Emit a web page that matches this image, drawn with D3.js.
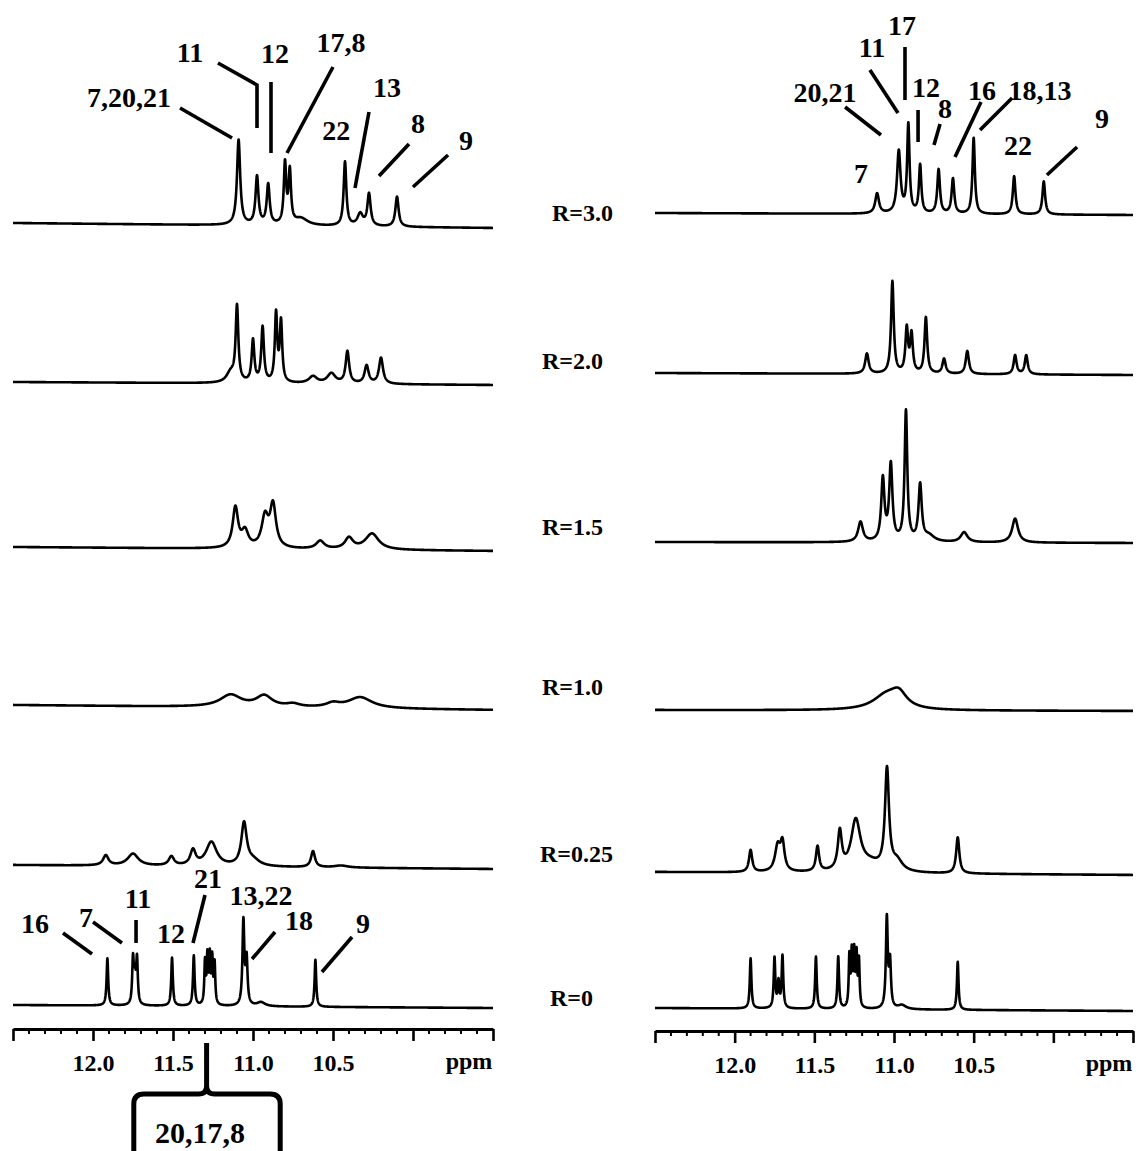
<!DOCTYPE html>
<html>
<head>
<meta charset="utf-8">
<script src="https://cdn.jsdelivr.net/npm/d3@7/dist/d3.min.js"></script>
<style>
body { margin: 0; background: #fff; }
svg { display: block; }
text { font-family: "Liberation Serif", "Times New Roman", serif; font-weight: bold; fill: #000; }
</style>
</head>
<body>
<script>
// row titles, top to bottom
var rowLabels = ["R=3.0", "R=2.0", "R=1.5", "R=1.0", "R=0.25", "R=0"];

// peaks: [ppm, height, half width (ppm)]
var leftR30 = [[11.09, 85, 0.012], [10.975, 48, 0.011], [10.905, 40, 0.011], [10.80, 60, 0.009], [10.77, 52, 0.009],
  [10.70, 7, 0.05], [10.425, 64, 0.01], [10.33, 12, 0.02], [10.275, 32, 0.012], [10.10, 30, 0.012]];
var leftR20 = [[11.14, 10, 0.03], [11.10, 75, 0.01], [11.0, 42, 0.01], [10.94, 55, 0.01], [10.856, 68, 0.009],
  [10.825, 60, 0.009], [10.625, 7, 0.03], [10.51, 10, 0.03], [10.41, 32, 0.013], [10.29, 18, 0.015], [10.2, 26, 0.015]];
var leftR15 = [[11.11, 40, 0.02], [11.05, 16, 0.025], [10.925, 30, 0.025], [10.875, 42, 0.022], [10.58, 8, 0.03],
  [10.40, 11, 0.03], [10.256, 16, 0.05]];
var leftR10 = [[11.14, 12, 0.08], [10.93, 11, 0.06], [10.75, 3, 0.05], [10.5, 4, 0.05], [10.33, 11, 0.09]];
var leftR025 = [[11.92, 10, 0.02], [11.75, 12, 0.04], [11.51, 9, 0.02], [11.375, 15, 0.02], [11.26, 24, 0.04],
  [11.056, 42, 0.02], [11.0, 6, 0.05], [10.625, 16, 0.015], [10.45, 2, 0.05]];
var leftR0 = [[11.91, 47, 0.006], [11.75, 45, 0.006], [11.738, 25, 0.006], [11.725, 45, 0.006], [11.506, 48, 0.006],
  [11.37, 50, 0.006], [11.30, 42, 0.005], [11.285, 46, 0.005], [11.27, 46, 0.005], [11.255, 44, 0.005],
  [11.24, 40, 0.005], [11.06, 84, 0.007], [11.04, 45, 0.007], [10.95, 4, 0.03], [10.61, 47, 0.006]];

var rightR30 = [[11.106, 20, 0.014], [10.97, 62, 0.013], [10.91, 88, 0.009], [10.836, 48, 0.009], [10.72, 44, 0.01],
  [10.63, 35, 0.01], [10.5, 76, 0.009], [10.246, 38, 0.01], [10.06, 33, 0.01]];
var rightR20 = [[11.17, 20, 0.013], [11.01, 92, 0.01], [10.92, 44, 0.01], [10.89, 38, 0.01], [10.8, 56, 0.01],
  [10.686, 15, 0.012], [10.54, 23, 0.012], [10.24, 19, 0.011], [10.17, 19, 0.011]];
var rightR15 = [[11.21, 20, 0.018], [11.07, 62, 0.012], [11.02, 76, 0.012], [10.925, 130, 0.01], [10.836, 56, 0.012],
  [10.78, 6, 0.04], [10.56, 10, 0.025], [10.24, 24, 0.022]];
var rightR10 = [[11.05, 14, 0.1], [10.97, 14, 0.06]];
var rightR025 = [[11.9, 22, 0.012], [11.73, 25, 0.02], [11.70, 27, 0.015], [11.48, 25, 0.012], [11.34, 38, 0.015],
  [11.24, 50, 0.035], [11.15, 8, 0.08], [11.044, 100, 0.015], [10.98, 10, 0.04], [10.6, 36, 0.012]];
var rightR0 = [[11.9, 50, 0.006], [11.75, 50, 0.006], [11.725, 25, 0.006], [11.70, 52, 0.006], [11.49, 52, 0.006],
  [11.35, 52, 0.006], [11.28, 50, 0.005], [11.265, 52, 0.005], [11.25, 52, 0.005], [11.235, 50, 0.005],
  [11.22, 46, 0.005], [11.045, 90, 0.007], [11.025, 45, 0.007], [10.95, 4, 0.03], [10.6, 48, 0.006]];

var leftPeaks = [leftR30, leftR20, leftR15, leftR10, leftR025, leftR0];
var rightPeaks = [rightR30, rightR20, rightR15, rightR10, rightR025, rightR0];

// axis
var ppmDomain = [12.5, 9.5];
var majorTicks = [12.5, 12.0, 11.5, 11.0, 10.5, 10.0, 9.5];
var labelledTicks = [12.0, 11.5, 11.0, 10.5];
var minorTicks = d3.range(95, 126).map(function (v) { return v / 10; });

// peak assignments: text, ppm, height above baseline, leader line points
var leftTopNotes = [
  {t: "7,20,21", p: 11.775, h: 116, line: [[11.456, 115], [11.131, 85]]},
  {t: "11", p: 11.394, h: 161, line: [[11.219, 160], [10.975, 138], [10.975, 95]]},
  {t: "12", p: 10.8625, h: 160, line: [[10.8875, 141], [10.8875, 70]]},
  {t: "17,8", p: 10.45, h: 171, line: [[10.5, 156], [10.7875, 70]]},
  {t: "22", p: 10.48, h: 83, line: []},
  {t: "13", p: 10.1625, h: 126, line: [[10.275, 111], [10.3625, 35]]},
  {t: "8", p: 9.969, h: 90, line: [[10.025, 79], [10.2125, 47]]},
  {t: "9", p: 9.669, h: 73, line: [[9.781, 68], [10.0, 36]]}
];
var rightTopNotes = [
  {t: "17", p: 10.95, h: 178, line: [[10.931, 166], [10.931, 113]]},
  {t: "11", p: 11.138, h: 156, line: [[11.151, 143], [10.975, 100]]},
  {t: "20,21", p: 11.433, h: 111, line: [[11.307, 106], [11.082, 78]]},
  {t: "12", p: 10.799, h: 116, line: [[10.849, 103], [10.849, 71]]},
  {t: "8", p: 10.68, h: 95, line: [[10.711, 89], [10.749, 68]]},
  {t: "16", p: 10.448, h: 113, line: [[10.454, 111], [10.617, 56]]},
  {t: "18,13", p: 10.084, h: 113, line: [[10.259, 115], [10.46, 83]]},
  {t: "22", p: 10.222, h: 58, line: []},
  {t: "9", p: 9.694, h: 85, line: [[9.851, 66], [10.04, 38]]},
  {t: "7", p: 11.207, h: 30, line: []}
];
var leftBottomNotes = [
  {t: "16", p: 12.3625, h: 72, line: [[12.1875, 72], [12.006, 51]]},
  {t: "7", p: 12.044, h: 78, line: [[12.0, 83], [11.819, 62]]},
  {t: "11", p: 11.719, h: 97, line: [[11.731, 85], [11.731, 62]]},
  {t: "12", p: 11.5125, h: 62, line: []},
  {t: "21", p: 11.281, h: 117, line: [[11.3, 110], [11.375, 62]]},
  {t: "13,22", p: 10.95, h: 100, line: []},
  {t: "18", p: 10.7125, h: 75, line: [[10.8625, 73], [11.006, 46]]},
  {t: "9", p: 10.3125, h: 72, line: [[10.381, 68], [10.569, 33]]}
];

var W = 1141, H = 1151;
var svg = d3.select("body").append("svg").attr("width", W).attr("height", H);

var panels = [
  {range: [13, 493], base: [[223, 228], [382, 385], [547, 551], [705, 710], [865, 869], [1005, 1008]],
    peaks: leftPeaks, axisY: 1029, notes: [leftTopNotes, null, null, null, null, leftBottomNotes]},
  {range: [655, 1133], base: [[213, 215], [373, 375], [542, 543], [710, 711], [872, 875], [1008, 1011]],
    peaks: rightPeaks, axisY: 1031, notes: [rightTopNotes, null, null, null, null, null]}
];

var grid = d3.range(12500, 9499, -1).map(function (v) { return v / 1000; });

function intensity(peaks, ppm) {
  var s = 0;
  peaks.forEach(function (pk) {
    var u = (ppm - pk[0]) / pk[2];
    s += pk[1] / (1 + u * u);
  });
  return s;
}

panels.forEach(function (pan) {
  var x = d3.scaleLinear().domain(ppmDomain).range(pan.range);
  var g = svg.append("g");

  pan.peaks.forEach(function (peaks, i) {
    var b = pan.base[i];
    var y = d3.scaleLinear().domain([0, 100]).range([b[0], b[0] - 100]);
    var tilt = d3.scaleLinear().domain(ppmDomain).range([0, b[1] - b[0]]);
    var pts = grid.map(function (p) { return [p, y(intensity(peaks, p)) + tilt(p)]; });
    var line = d3.line().x(function (d) { return x(d[0]); }).y(function (d) { return d[1]; });
    g.append("path").attr("d", line(pts)).attr("fill", "none")
      .attr("stroke", "#000").attr("stroke-width", 2.6).attr("stroke-linejoin", "round");

    var notes = pan.notes[i];
    if (notes) {
      var nl = d3.line().x(function (d) { return x(d[0]); }).y(function (d) { return y(d[1]); });
      notes.forEach(function (n) {
        g.append("text").attr("x", x(n.p)).attr("y", y(n.h)).attr("text-anchor", "middle")
          .attr("font-size", 28).text(n.t);
        if (n.line.length) {
          g.append("path").attr("d", nl(n.line)).attr("fill", "none")
            .attr("stroke", "#000").attr("stroke-width", 3.6);
        }
      });
    }
  });

  // ppm axis
  var ax = g.append("g").attr("transform", "translate(0," + pan.axisY + ")")
    .call(d3.axisBottom(x).tickValues(majorTicks).tickSize(12).tickSizeOuter(0)
      .tickFormat(function (d) { return labelledTicks.indexOf(d) >= 0 ? d.toFixed(1) : ""; }));
  ax.select(".domain").attr("stroke-width", 2.8);
  ax.selectAll(".tick line").attr("stroke-width", 2.6);
  ax.selectAll(".tick text").attr("y", 42).attr("dy", null).attr("font-size", 24);
  ax.selectAll(".minor").data(minorTicks.filter(function (v) {
      return majorTicks.indexOf(v) < 0;
    })).enter().append("line").attr("class", "minor")
    .attr("x1", function (d) { return x(d); }).attr("x2", function (d) { return x(d); })
    .attr("y1", 0).attr("y2", 5).attr("stroke", "#000").attr("stroke-width", 2);
  ax.append("text").attr("x", pan.range[1] - 24).attr("y", 40).attr("text-anchor", "middle")
    .attr("font-size", 24).text("ppm");

  pan.x = x;
});

// R labels between the panels
var rowLabelX = [552, 542, 542, 542, 540, 550];
var rowLabelY = [221, 369, 535, 695, 862, 1006];
svg.selectAll(".rlab").data(rowLabels).enter().append("text").attr("class", "rlab")
  .attr("x", function (d, i) { return rowLabelX[i]; })
  .attr("y", function (d, i) { return rowLabelY[i]; })
  .attr("font-size", 24).text(function (d) { return d; });

// brace under the left axis for the 11.29 ppm cluster
var xl = panels[0].x;
var sx = xl(11.29), lx = xl(11.745), rx = xl(10.83);
var braceTop = 1043, braceY = 1094;
var brace = d3.path();
brace.moveTo(sx, braceTop); brace.lineTo(sx, braceY - 8);
brace.quadraticCurveTo(sx, braceY, sx - 8, braceY); brace.lineTo(lx + 10, braceY);
brace.quadraticCurveTo(lx, braceY, lx, braceY + 10); brace.lineTo(lx, H);
brace.moveTo(sx, braceY - 8);
brace.quadraticCurveTo(sx, braceY, sx + 8, braceY); brace.lineTo(rx - 10, braceY);
brace.quadraticCurveTo(rx, braceY, rx, braceY + 10); brace.lineTo(rx, H);
svg.append("path").attr("d", brace.toString()).attr("fill", "none")
  .attr("stroke", "#000").attr("stroke-width", 5);
svg.append("text").attr("x", (lx + rx) / 2 - 7).attr("y", 1143).attr("text-anchor", "middle")
  .attr("font-size", 30).text("20,17,8");
</script>
</body>
</html>
